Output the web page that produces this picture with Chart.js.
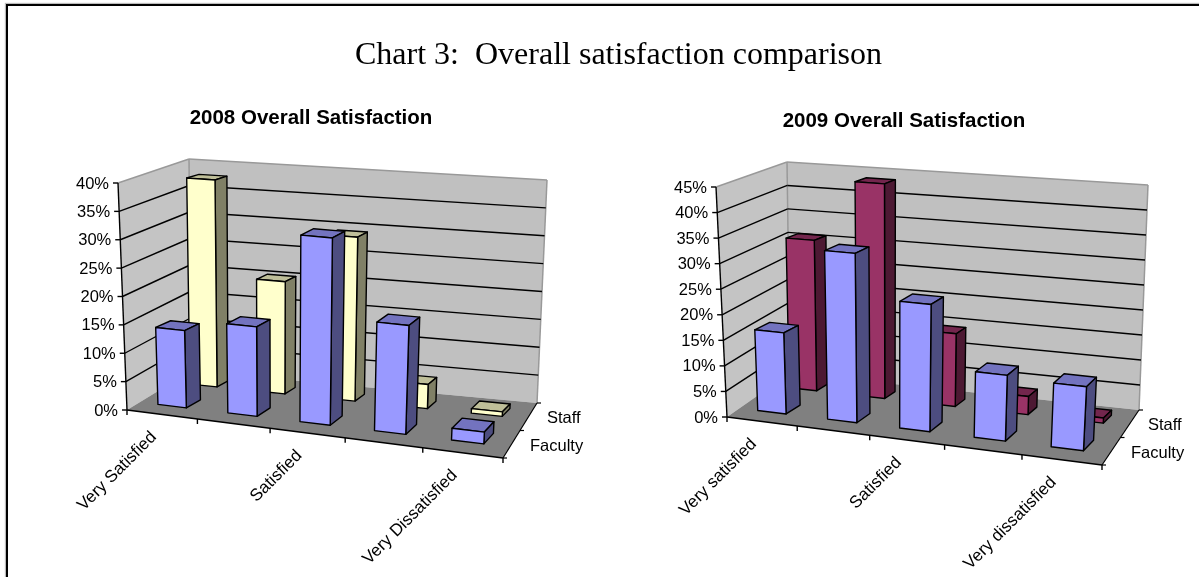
<!DOCTYPE html>
<html>
<head>
<meta charset="utf-8">
<title>Chart 3: Overall satisfaction comparison</title>
<script src="https://cdn.jsdelivr.net/npm/chart.js@4"></script>
<style>
    html, body { margin: 0; padding: 0; background: #fff; overflow: hidden; }
    #frame {
        position: absolute; left: 6px; top: 4px; width: 1300px; height: 700px;
        border: 2px solid #000; box-sizing: border-box; box-shadow: 0 0 1px 1px #bbb;
    }
    #heading {
        position: absolute; left: 355px; top: 35px;
        font: 32px "Liberation Serif", serif; color: #000; white-space: pre; line-height: 36px;
        filter: blur(0.3px);
    }
    canvas { position: absolute; top: 90px; filter: blur(0.4px); }
    #chart2008 { left: 20px; }
    #chart2009 { left: 610px; }
</style>
</head>
<body>
<div id="frame"></div>
<div id="heading">Chart 3:  Overall satisfaction comparison</div>
<canvas id="chart2008" width="582" height="487"></canvas>
<canvas id="chart2009" width="588" height="487"></canvas>
<script>
const categories2008 = ['Very Satisfied', '', 'Satisfied', '', 'Very Dissatisfied'];
const faculty2008 = [13.7, 15.7, 32.5, 18.7, 2];
const staff2008 = [38, 20.4, 29.5, 4.3, 0.8];

const categories2009 = ['Very satisfied', '', 'Satisfied', '', 'Very dissatisfied'];
const faculty2009 = [16, 33, 24.5, 12.5, 12];
const staff2009 = [31, 43.7, 14.6, 3.6, 1];

const seriesNames = ['Faculty', 'Staff'];

// page coordinates of the box: fl = front left, bl = back left, br = back right, fr = front right
const box2008 = {
    origin: [20, 90],
    floor: { fl: [127, 410], bl: [191, 371], br: [537, 403], fr: [503, 458] },
    top: { fl: [118, 183], bl: [189, 159], br: [547, 180], fr: [516, 218] },
    depthLabelX: [530, 547]
};
const box2009 = {
    origin: [610, 90],
    floor: { fl: [727, 417], bl: [790, 373], br: [1139, 410], fr: [1102, 465] },
    top: { fl: [716, 187], bl: [787, 162], br: [1148, 185], fr: [1116, 220] },
    depthLabelX: [1131, 1148]
};

// depth range of each row, 0 = front edge of floor, 1 = back wall
const rows = [[0.2, 0.4], [0.71, 0.86]];
// front faces sit slightly left of the backs, the side faces read wider that way
const frontSkew = 0.006;

const lerp = (a, b, t) => [a[0] + (b[0] - a[0]) * t, a[1] + (b[1] - a[1]) * t];

function bilerp(c, u, w) {
    return lerp(lerp(c.fl, c.fr, u), lerp(c.bl, c.br, u), w);
}

// the front of the box is nearer, so the left categories come out a bit narrower
function project(box, u, v, w) {
    const wu = u / (1 + 0.085 * (1 - u));
    return lerp(bilerp(box.floor, wu, w), bilerp(box.top, wu, w), v);
}

function poly(ctx, pts, fill, stroke) {
    ctx.beginPath();
    pts.forEach((p, i) => i ? ctx.lineTo(p[0], p[1]) : ctx.moveTo(p[0], p[1]));
    ctx.closePath();
    ctx.fillStyle = fill;
    ctx.fill();
    if (stroke) {
        ctx.strokeStyle = stroke;
        ctx.stroke();
    }
}

function line(ctx, a, b, color, width) {
    ctx.beginPath();
    ctx.moveTo(a[0], a[1]);
    ctx.lineTo(b[0], b[1]);
    ctx.strokeStyle = color;
    ctx.lineWidth = width || 1;
    ctx.stroke();
}

const box3d = {
    id: 'box3d',
    beforeDatasetsDraw(chart, args, opts) {
        const ctx = chart.ctx;
        const box = chart.$box;
        const area = chart.chartArea;
        const yScale = chart.scales.y;
        const toU = px => (px - area.left) / area.width;
        const toV = py => (area.bottom - py) / area.height;

        ctx.save();
        ctx.translate(-box.origin[0], -box.origin[1]);
        ctx.lineJoin = 'round';

        // walls and floor
        poly(ctx, [box.floor.fl, box.floor.bl, box.top.bl, box.top.fl], '#c4c4c4');
        poly(ctx, [box.floor.bl, box.floor.br, box.top.br, box.top.bl], '#c0c0c0');
        poly(ctx, [box.floor.fl, box.floor.fr, box.floor.br, box.floor.bl], '#808080');
        line(ctx, box.top.fl, box.top.bl, '#999', 1.5);
        line(ctx, box.top.bl, box.top.br, '#999', 1.5);
        line(ctx, box.top.br, box.floor.br, '#999', 1.5);
        line(ctx, box.top.bl, box.floor.bl, '#999', 1.5);

        // gridlines, value ticks and value labels
        ctx.font = '16.5px "Liberation Sans", sans-serif';
        ctx.textAlign = 'right';
        ctx.textBaseline = 'middle';
        yScale.ticks.forEach(t => {
            const v = toV(yScale.getPixelForValue(t.value));
            const front = lerp(box.floor.fl, box.top.fl, v);
            const corner = lerp(box.floor.bl, box.top.bl, v);
            const back = lerp(box.floor.br, box.top.br, v);
            if (t.value > 0 && t.value < yScale.max) {
                line(ctx, front, corner, '#000', 1.4);
                line(ctx, corner, back, '#000', 1.4);
            }
            line(ctx, [front[0] - 5, front[1]], front, '#000', 1.4);
            ctx.fillStyle = '#000';
            ctx.fillText(t.label, front[0] - 9, front[1] + 1);
        });
        line(ctx, box.floor.fl, box.top.fl, '#000', 1.4);
        line(ctx, box.floor.fl, box.floor.fr, '#000', 1.6);
        line(ctx, box.floor.fr, box.floor.br, '#000', 1.2);

        // category ticks on the front edge
        for (let i = 0; i <= chart.data.labels.length; i++) {
            const p = project(box, i / chart.data.labels.length, 0, 0);
            line(ctx, p, [p[0], p[1] + 5], '#000', 1.4);
        }

        // depth ticks and series labels
        ctx.textAlign = 'left';
        seriesNames.forEach((name, i) => {
            const p = lerp(box.floor.fr, box.floor.br, i * 0.5);
            line(ctx, p, [p[0] + 4, p[1]], '#000', 1.2);
            const mid = lerp(box.floor.fr, box.floor.br, i * 0.5 + 0.25);
            ctx.fillStyle = '#000';
            ctx.fillText(name, box.depthLabelX[i], mid[1] + 2);
        });
        line(ctx, box.floor.br, [box.floor.br[0] + 4, box.floor.br[1]], '#000', 1.2);

        // bars, back row first
        ctx.lineWidth = 1.4;
        for (let d = chart.data.datasets.length - 1; d >= 0; d--) {
            const ds = chart.data.datasets[d];
            const [w0, w1] = rows[d];
            chart.getDatasetMeta(d).data.forEach(el => {
                const uL = toU(el.x - el.width / 2);
                const uR = toU(el.x + el.width / 2);
                const v = toV(el.y);
                const F = (u, vv) => project(box, u - frontSkew, vv, w0);
                const B = (u, vv) => project(box, u, vv, w1);
                poly(ctx, [F(uL, v), F(uR, v), B(uR, v), B(uL, v)], ds.topColor, '#000');
                poly(ctx, [F(uR, 0), B(uR, 0), B(uR, v), F(uR, v)], ds.sideColor, '#000');
                poly(ctx, [F(uL, 0), F(uR, 0), F(uR, v), F(uL, v)], ds.backgroundColor, '#000');
            });
        }

        // rotated category labels
        ctx.font = '17px "Liberation Sans", sans-serif';
        ctx.textAlign = 'right';
        ctx.fillStyle = '#000';
        chart.data.labels.forEach((label, i) => {
            if (!label) return;
            const u = toU(chart.scales.x.getPixelForValue(i));
            const p = project(box, u, 0, 0);
            ctx.save();
            ctx.translate(p[0] - 8, p[1] + 20);
            ctx.rotate(-Math.PI / 4);
            ctx.fillText(label, 0, 0);
            ctx.restore();
        });

        ctx.restore();
        return false;
    }
};

function makeChart(id, title, titlePad, box, categories, faculty, staff, staffColors, yMax) {
    const chart = new Chart(document.getElementById(id), {
        type: 'bar',
        data: {
            labels: categories,
            datasets: [
                { label: seriesNames[0], data: faculty, backgroundColor: '#9999ff', sideColor: '#4d4d80', topColor: '#7373bf' },
                { label: seriesNames[1], data: staff, backgroundColor: staffColors[0], sideColor: staffColors[1], topColor: staffColors[2] }
            ]
        },
        options: {
            responsive: false,
            animation: false,
            grouped: false,
            barPercentage: 0.41,
            categoryPercentage: 1,
            layout: { padding: { left: 0, right: 0, top: 0, bottom: titlePad.bottom } },
            plugins: {
                legend: { display: false },
                tooltip: { enabled: false },
                title: {
                    display: true,
                    text: title,
                    color: '#000',
                    font: { family: '"Liberation Sans", sans-serif', size: 20.5, weight: 'bold' },
                    padding: { top: titlePad.top, bottom: titlePad.gap }
                }
            },
            scales: {
                x: { display: false },
                y: {
                    display: false,
                    min: 0,
                    max: yMax,
                    ticks: { stepSize: 5, callback: v => v + '%' }
                }
            }
        },
        plugins: [{
            id: 'boxRef',
            beforeInit(c) { c.$box = box; }
        }, box3d]
    });
    return chart;
}

makeChart('chart2008', '2008 Overall Satisfaction', { top: 16, gap: 52.4, bottom: 167 }, box2008,
    categories2008, faculty2008, staff2008, ['#ffffcc', '#808066', '#bfbf99'], 40);
makeChart('chart2009', '2009 Overall Satisfaction', { top: 19, gap: 53.4, bottom: 160 }, box2009,
    categories2009, faculty2009, staff2009, ['#993366', '#4d1933', '#73264d'], 45);
</script>
</body>
</html>
